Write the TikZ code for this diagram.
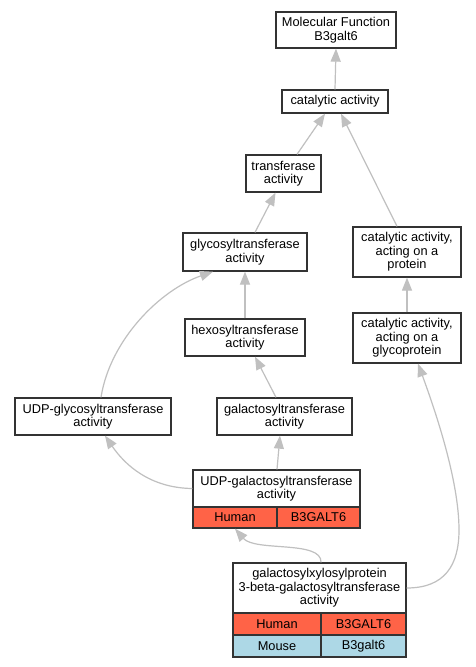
\documentclass[tikz,border=0pt]{standalone}
\usepackage{fontspec}
\setmainfont{Liberation Sans}
\usetikzlibrary{arrows.meta}
\definecolor{edgec}{RGB}{192,192,192}
\definecolor{bordc}{RGB}{51,51,51}
\definecolor{humanc}{RGB}{255,99,71}
\definecolor{mousec}{RGB}{173,216,230}
\begin{document}
\begin{tikzpicture}[x=1pt,y=-1pt,
  box/.style={draw=bordc,line width=1.3pt,fill=white,inner sep=0pt,align=center,
    font=\fontsize{12.8}{13.6}\selectfont},
  hcell/.style={box,fill=humanc},
  mcell/.style={box,fill=mousec},
  edge/.style={draw=edgec,line width=1.2pt,-{Triangle[length=13pt,width=10pt]}}]
\useasboundingbox[fill=white] (0,0) rectangle (476,667);
% nodes
\node[box,minimum width=120pt,minimum height=36pt] (mf) at (336,30) {Molecular Function\\B3galt6};
\node[box,minimum width=106pt,minimum height=23pt] (cat) at (335,101.5) {catalytic activity};
\node[box,minimum width=75pt,minimum height=37pt] (trans) at (283.5,173.5) {transferase\\activity};
\node[box,minimum width=124pt,minimum height=38pt] (glyco) at (245,252) {glycosyltransferase\\activity};
\node[box,minimum width=120pt,minimum height=37pt] (hexo) at (245,337.5) {hexosyltransferase\\activity};
\node[box,minimum width=156pt,minimum height=37pt] (udpgly) at (93,416.5) {UDP-glycosyltransferase\\activity};
\node[box,minimum width=135pt,minimum height=37pt] (galac) at (284.5,416.5) {galactosyltransferase\\activity};
\node[box,minimum width=108pt,minimum height=50pt] (catprot) at (407,252) {catalytic activity,\\acting on a\\protein};
\node[box,minimum width=108pt,minimum height=50pt] (glycoprot) at (407,338) {catalytic activity,\\acting on a\\glycoprotein};
% UDP-galactosyltransferase table
\node[box,minimum width=167pt,minimum height=37pt] (udpgal) at (276.5,488.5) {UDP-galactosyltransferase\\activity};
\node[hcell,minimum width=84pt,minimum height=21pt] (udpgalh) at (235,517.5) {Human};
\node[hcell,minimum width=83pt,minimum height=21pt] (udpgalg) at (318.5,517.5) {B3GALT6};
% galactosylxylosylprotein table
\node[box,minimum width=173pt,minimum height=50pt] (gxp) at (319.5,588) {galactosylxylosylprotein\\3-beta-galactosyltransferase\\activity};
\node[hcell,minimum width=88pt,minimum height=22pt] (gxph) at (277,624) {Human};
\node[hcell,minimum width=85pt,minimum height=22pt] (gxphg) at (363.5,624) {B3GALT6};
\node[mcell,minimum width=88pt,minimum height=22pt] (gxpm) at (277,646) {Mouse};
\node[mcell,minimum width=85pt,minimum height=22pt] (gxpmg) at (363.5,646) {B3galt6};
% edges
\draw[edge] (cat.north) -- (mf.south);
\draw[edge] ([xshift=13.5pt]trans.north) -- ([xshift=-10pt]cat.south);
\draw[edge] ([xshift=-10pt]catprot.north) -- ([xshift=6pt]cat.south);
\draw[edge] ([xshift=10pt]glyco.north) -- ([xshift=-8pt]trans.south);
\draw[edge] (hexo.north) -- (glyco.south);
\draw[edge] ([xshift=8pt]udpgly.north) .. controls (110,340) and (160,290) .. ([xshift=-32pt]glyco.south);
\draw[edge] ([xshift=-8.5pt]galac.north) -- ([xshift=10pt]hexo.south);
\draw[edge] (udpgal.west) .. controls (150,488) and (125,465) .. ([xshift=12pt]udpgly.south);
\draw[edge] ([xshift=0.5pt]udpgal.north) -- ([xshift=-4.5pt]galac.south);
\draw[edge] (glycoprot.north) -- (catprot.south);
\draw[edge] ([xshift=1.5pt]gxp.north) .. controls (322,540) and (255,552) .. (udpgalh.south);
\draw[edge] (gxp.east) .. controls (445,588) and (459,565) .. (459,530) .. controls (459,480) and (435,410) .. ([xshift=11pt]glycoprot.south);
\end{tikzpicture}
\end{document}
